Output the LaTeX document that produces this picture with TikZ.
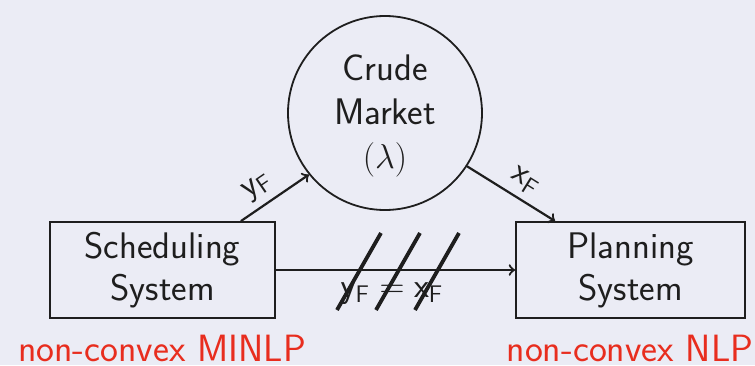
\documentclass[tikz,border=0pt]{standalone}
\usetikzlibrary{calc}
\definecolor{bg}{RGB}{235,236,245}
\definecolor{ln}{RGB}{30,30,30}
\definecolor{rd}{RGB}{232,45,30}
\begin{document}
\begin{tikzpicture}[x=0.5pt,y=-0.5pt,
  txt/.style={font=\sffamily\fontsize{18.5}{21}\selectfont, text=ln},
  sysbox/.style={txt, draw=ln, line width=0.9pt, align=center, minimum height=48pt},
  conn/.style={draw=ln, line width=1.1pt, ->},
  slash/.style={draw=ln, line width=1.9pt},
  note/.style={font=\sffamily\fontsize{19}{22}\selectfont, text=rd}]
\fill[bg] (0,0) rectangle (755,365);
\useasboundingbox (0,0) rectangle (755,365);
\node[txt, circle, draw=ln, line width=0.9pt, minimum size=97pt, inner sep=0pt] (crude) at (385,113) {};
\node[txt, align=center] (ctext) at (385,116) {Crude\\[1pt]Market\\[1pt]$(\lambda)$};
\node[sysbox, minimum width=112.5pt] (sched) at (162.5,270) {Scheduling\\System};
\node[sysbox, minimum width=114.5pt] (plan) at (630.5,270) {Planning\\System};
\draw[conn] ([xshift=-17.5pt]sched.north east) -- node[txt, above, sloped, pos=0.4] {$\mathsf{y}_{\mathsf{F}}$} (crude.219);
\draw[conn] (crude.-33) -- node[txt, above, sloped, pos=0.55] {$\mathsf{x}_{\mathsf{F}}$} ([xshift=20pt]plan.north west);
\draw[conn] (sched.east) -- (plan.west);
\node[txt] (eq) at (392,293) {$\mathsf{y}_{\mathsf{F}}=\mathsf{x}_{\mathsf{F}}$};
\coordinate (s1a) at (337,310); \coordinate (s1b) at (381,233);
\coordinate (s2a) at (376,310); \coordinate (s2b) at (420,233);
\coordinate (s3a) at (415,310); \coordinate (s3b) at (459,233);
\draw[slash] (s1a) -- (s1b);
\draw[slash] (s2a) -- (s2b);
\draw[slash] (s3a) -- (s3b);
\node[note] (n1) at (162,348) {non-convex MINLP};
\node[note] (n2) at (630,348) {non-convex NLP};
\end{tikzpicture}
\end{document}
